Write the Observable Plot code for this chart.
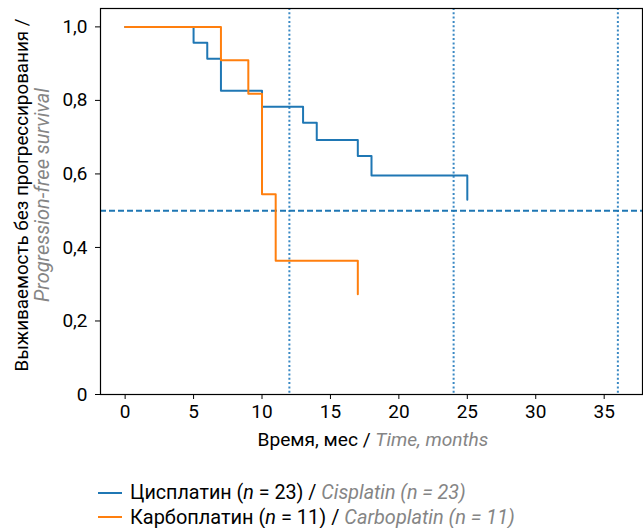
<!DOCTYPE html>
<html><head><meta charset="utf-8">
<script src="https://cdn.jsdelivr.net/npm/d3@7"></script>
<script src="https://cdn.jsdelivr.net/npm/@observablehq/plot@0.6"></script>
<style>
body{margin:0;background:#fff;font-family:Roboto,sans-serif;}
#legend{padding-top:21px;padding-left:98px;font-size:19.5px;line-height:24px;color:#000;}
#legend .row{display:flex;align-items:center;height:24px;white-space:nowrap;}
#legend .sw{display:inline-block;width:24px;height:2px;margin-right:8px;flex:none;}
#legend .g{color:#858585;font-style:italic;}
</style></head><body>
<div id="chart"></div>
<div id="legend"></div>
<script>
const cisTime = [0, 5, 6, 7, 10, 13, 14, 17, 18, 25];
const cisSurv = [1.0, 0.957, 0.913, 0.826, 0.783, 0.739, 0.692, 0.649, 0.596, 0.53];
const carTime = [0, 7, 9, 10, 11, 17];
const carSurv = [1.0, 0.909, 0.818, 0.545, 0.364, 0.273];
const xTicks = [0, 5, 10, 15, 20, 25, 30, 35];
const yTicks = [0, 0.2, 0.4, 0.6, 0.8, 1.0];
const refMonths = [12, 24, 36];
const medianLine = [0.5];
const seriesNames = ["Цисплатин", "Карбоплатин"];
const seriesEn = ["Cisplatin", "Carboplatin"];
const seriesN = [23, 11];
const colors = ["#1f77b4", "#ff7f0e"];

const cis = cisTime.map((t, i) => ({t, s: cisSurv[i]}));
const car = carTime.map((t, i) => ({t, s: carSurv[i]}));

const plot = Plot.plot({
  width: 643, height: 460,
  marginLeft: 100, marginRight: 1, marginTop: 8, marginBottom: 66,
  style: {fontFamily: "Roboto, sans-serif", fontSize: "19px", color: "#000", background: "#fff"},
  x: {domain: [-1.8, 37.8]},
  y: {domain: [0, 1.05]},
  marks: [
    Plot.ruleX(refMonths, {x: d => d, stroke: "#3a89c4", strokeWidth: 2, strokeDasharray: "2,2.3"}),
    Plot.ruleY(medianLine, {y: d => d, stroke: colors[0], strokeWidth: 2, strokeDasharray: "6,3"}),
    Plot.line(cis, {x: "t", y: "s", curve: "step-after", stroke: colors[0], strokeWidth: 2}),
    Plot.line(car, {x: "t", y: "s", curve: "step-after", stroke: colors[1], strokeWidth: 2}),
    Plot.frame({stroke: "#000", strokeWidth: 1.2}),
    Plot.axisX({ticks: xTicks, tickSize: 5, tickPadding: 5, label: null, fontSize: 19}),
    Plot.axisY({ticks: yTicks, tickSize: 5, tickPadding: 8, label: null, fontSize: 19,
      tickFormat: d => d === 0 ? "0" : d.toFixed(1).replace(".", ",")})
  ]
});
document.getElementById("chart").appendChild(plot);

const svg = d3.select(plot);
function fitText(sel, target) {
  const node = sel.node();
  const len = node.getComputedTextLength();
  const fs = parseFloat(sel.attr("font-size"));
  if (len > 0) sel.attr("font-size", (fs * target / len).toFixed(2));
}
const xl = svg.append("text").attr("x", 373).attr("y", 446).attr("text-anchor", "middle")
  .attr("font-size", 19).attr("fill", "#000");
xl.append("tspan").text("Время, мес / ");
xl.append("tspan").attr("fill", "#858585").attr("font-style", "italic").text("Time, months");
fitText(xl, 231);

const yl1 = svg.append("text").attr("transform", "translate(28,195) rotate(-90)").attr("text-anchor", "middle")
  .attr("font-size", 19).attr("fill", "#000").text("Выживаемость без прогрессирования /");
fitText(yl1, 353);
const yl2 = svg.append("text").attr("transform", "translate(49,195) rotate(-90)").attr("text-anchor", "middle")
  .attr("font-size", 19).attr("fill", "#858585").attr("font-style", "italic").text("Progression-free survival");
fitText(yl2, 214);

const leg = document.getElementById("legend");
const legTargets = [336, 385];
seriesNames.forEach((name, i) => {
  const row = document.createElement("div");
  row.className = "row";
  row.innerHTML = `<span class="sw" style="background:${colors[i]}"></span><span class="t">${name} (<i>n</i> = ${seriesN[i]}) / <span class="g">${seriesEn[i]} (n = ${seriesN[i]})</span></span>`;
  leg.appendChild(row);
  const t = row.querySelector(".t");
  const w = t.getBoundingClientRect().width;
  if (w > 0) t.style.fontSize = (19.5 * legTargets[i] / w).toFixed(2) + "px";
});
</script>
</body></html>
